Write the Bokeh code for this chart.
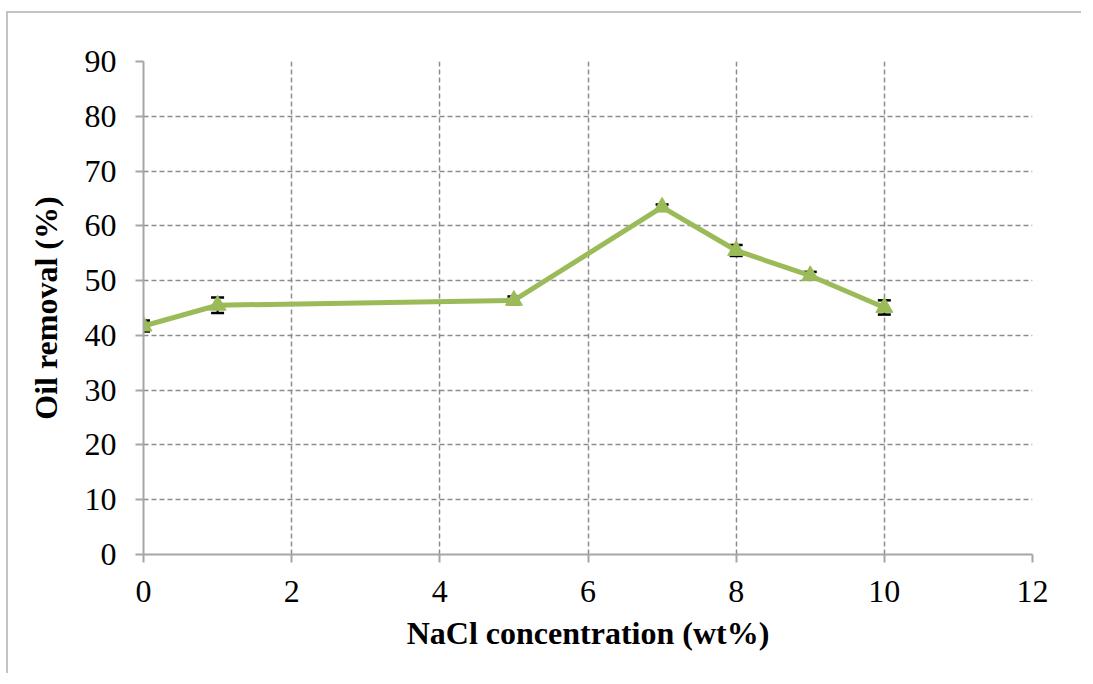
from bokeh.plotting import figure
from bokeh.models import Range1d, FixedTicker, Whisker, TeeHead, ColumnDataSource
from bokeh.embed import file_html
from bokeh.resources import INLINE

# Data
nacl_wt = [0, 1, 5, 7, 8, 9, 10]
oil_removal = [41.7, 45.5, 46.4, 63.4, 55.5, 50.9, 45.1]
error = [1.0, 1.4, 0.7, 0.5, 1.0, 0.7, 1.3]
x_ticks = [0, 2, 4, 6, 8, 10, 12]
y_ticks = [0, 10, 20, 30, 40, 50, 60, 70, 80, 90]

src = ColumnDataSource(data=dict(
    x=nacl_wt,
    y=oil_removal,
    upper=[v + e for v, e in zip(oil_removal, error)],
    lower=[v - e for v, e in zip(oil_removal, error)],
))

FONT = "Liberation Serif"
GREEN = "#9bbb59"

p = figure(width=1075, height=662, output_backend="svg", toolbar_location=None,
           x_range=Range1d(0, 12), y_range=Range1d(0, 90),
           min_border_left=135, min_border_right=51,
           min_border_top=48, min_border_bottom=121)
p.styles = {"border-left": "2px solid #c4c4c4", "border-top": "2px solid #c4c4c4",
            "margin-top": "11px", "margin-left": "6px"}
p.outline_line_color = None
p.background_fill_color = "white"
p.border_fill_color = "white"

for ax in (p.xaxis[0], p.yaxis[0]):
    ax.axis_line_color = "#a6a6a6"
    ax.axis_line_width = 2
    ax.major_tick_line_color = "#a6a6a6"
    ax.major_tick_line_width = 2
    ax.major_tick_out = 8
    ax.major_tick_in = 0
    ax.minor_tick_line_color = None
    ax.major_label_text_font = FONT
    ax.major_label_text_font_size = "32px"
    ax.major_label_text_color = "black"
    ax.axis_label_text_font = FONT
    ax.axis_label_text_font_size = "32px"
    ax.axis_label_text_font_style = "bold"
    ax.axis_label_text_color = "black"

p.xaxis[0].ticker = FixedTicker(ticks=x_ticks)
p.yaxis[0].ticker = FixedTicker(ticks=y_ticks)
p.xaxis[0].major_label_standoff = 18
p.yaxis[0].major_label_standoff = 19
p.xaxis[0].axis_label = "NaCl concentration (wt%)"
p.yaxis[0].axis_label = "Oil removal (%)"
p.xaxis[0].axis_label_standoff = 10
p.yaxis[0].axis_label_standoff = 18

for g in (p.xgrid[0], p.ygrid[0]):
    g.grid_line_color = "#8c8c8c"
    g.grid_line_width = 1.5
    g.grid_line_dash = "5 3"

w = Whisker(source=src, base="x", upper="upper", lower="lower", dimension="height",
            line_color="black", line_width=2, level="underlay",
            upper_head=TeeHead(size=13, line_color="black", line_width=2.5),
            lower_head=TeeHead(size=13, line_color="black", line_width=2.5))
p.add_layout(w)

p.line("x", "y", source=src, line_color=GREEN, line_width=5)
p.scatter("x", "y", source=src, marker="triangle", size=17,
          fill_color=GREEN, line_color=GREEN)

open("out.html", "w").write(file_html(p, INLINE))
